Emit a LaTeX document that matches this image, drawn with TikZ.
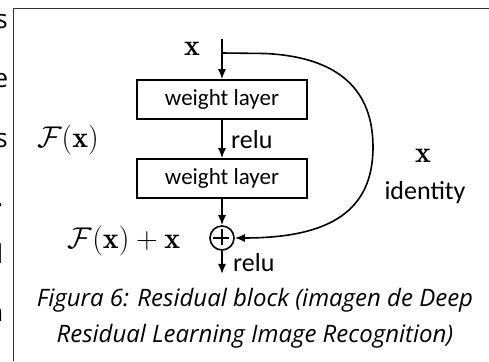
\documentclass[tikz,border=0pt]{standalone}
\usepackage{fix-cm}
\usepackage{amsmath}
\usepackage{amssymb}
\usepackage{fontspec}
\usepackage{tikz}
\usetikzlibrary{arrows.meta}
\newfontfamily\labfont{Carlito}
\newfontfamily\capfont{Open Sans}
\tikzset{
  layer/.style={draw,line width=1.6pt,minimum width=170pt,minimum height=39pt,inner sep=0pt,font=\labfont\fontsize{23}{26}\selectfont},
  flow/.style={line width=1.6pt,-{Latex[length=10pt,width=8pt]}},
  lbl/.style={font=\labfont\fontsize{26}{30}\selectfont,inner sep=0pt},
  mth/.style={font=\fontsize{30}{34}\selectfont,inner sep=0pt},
  frag/.style={font=\capfont\fontsize{26}{30}\selectfont,inner sep=0pt,anchor=base east}
}

\begin{document}
\begin{tikzpicture}[x=1pt,y=1pt]
\useasboundingbox (0,0) rectangle (489,361);
\draw[line width=0.9pt,black!80] (13,0) -- (13,353) -- (489,353);

\node[frag] (t1) at (8,332) {s};
\node[frag] (t2) at (8.5,273) {e};
\node[frag] (t3) at (8,213) {s};
\node[frag] (t4) at (3.5,154) {.};
\node[frag] (t5) at (3.5,97) {l};
\node[frag] (t6) at (3.5,40) {n};

\node[layer] (wl1) at (222,261.5) {weight layer};
\node[layer] (wl2) at (222,182.5) {weight layer};
\node[draw,circle,line width=1.6pt,minimum size=24pt,inner sep=0pt] (sum) at (222,123) {};
\draw[line width=1.4pt] (sum.west) ++(4,0) -- ++(16,0);
\draw[line width=1.4pt] (sum.north) ++(0,-4) -- ++(0,-16);
\coordinate (in) at (222,322);
\coordinate (split) at (222,308);
\coordinate (out) at (222,87);

\draw[flow] (in) -- (wl1.north);
\draw[flow] (wl1) -- (wl2);
\draw[flow] (wl2) -- (sum);
\draw[flow] (sum) -- (out);
\draw[flow] (split) -- (265,307.5) .. controls (340,304) and (373,270) .. (373,214)
  .. controls (373,150) and (330,123) .. (sum.east);

\node[mth] (xin) at (192,312) {$\mathbf{x}$};
\node[mth] (fx) at (68,221) {$\mathcal{F}(\mathbf{x})$};
\node[mth] (fxx) at (124,120) {$\mathcal{F}(\mathbf{x})+\mathbf{x}$};
\node[mth] (xid) at (423,205) {$\mathbf{x}$};
\node[lbl] (idt) at (425,168) {identity};
\node[lbl,anchor=west] (relu1) at (231,221) {relu};
\node[lbl,anchor=west] (relu2) at (233,98) {relu};

\node[font=\capfont\itshape\fontsize{24}{36}\selectfont,align=center] (cap) at (255,43)
  {Figura 6: Residual block (imagen de Deep\\Residual Learning Image Recognition)};
\end{tikzpicture}
\end{document}
